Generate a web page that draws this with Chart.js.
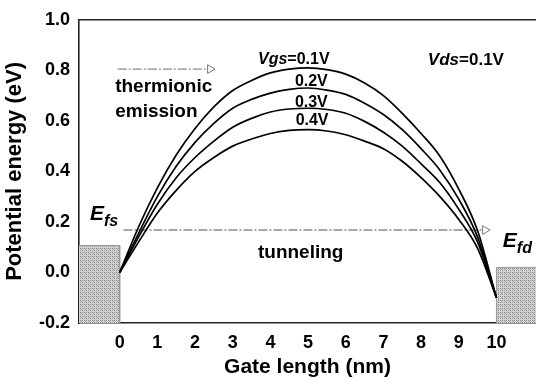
<!DOCTYPE html>
<html>
<head>
<meta charset="utf-8">
<script src="https://cdn.jsdelivr.net/npm/chart.js@4/dist/chart.umd.min.js"></script>
<style>
  html, body { margin: 0; padding: 0; background: #fff; }
  #wrap { width: 536px; height: 384px; }
</style>
</head>
<body>
<div id="wrap"><canvas id="myChart" width="536" height="384"></canvas></div>
<script>
// gate position (nm) and barrier profiles
const gateX  = [0, 0.5, 1, 1.5, 2, 2.5, 3, 3.5, 4, 4.5, 5, 5.5, 6, 6.5, 7, 7.5, 8, 8.5, 9, 9.5, 10];
const vgs01 = [0, 0.18, 0.335, 0.465, 0.57, 0.655, 0.72, 0.76, 0.79, 0.805, 0.81, 0.803, 0.785, 0.75, 0.70, 0.63, 0.55, 0.46, 0.33, 0.165, -0.10];
const vgs02 = [0, 0.155, 0.30, 0.42, 0.515, 0.59, 0.65, 0.685, 0.71, 0.725, 0.73, 0.722, 0.705, 0.67, 0.625, 0.565, 0.49, 0.405, 0.29, 0.14, -0.10];
const vgs03 = [0, 0.14, 0.27, 0.375, 0.455, 0.52, 0.575, 0.61, 0.635, 0.647, 0.65, 0.645, 0.63, 0.598, 0.555, 0.50, 0.43, 0.355, 0.25, 0.12, -0.10];
const vgs04 = [0, 0.12, 0.235, 0.325, 0.40, 0.455, 0.50, 0.528, 0.55, 0.562, 0.565, 0.56, 0.545, 0.52, 0.49, 0.44, 0.375, 0.30, 0.21, 0.095, -0.10];

// source / drain Fermi level blocks
const sourceX = [-1.2, 0, 0];
const sourceY = [0.107, 0.107, -0.2];
const drainX = [10, 10, 11.2];
const drainY = [-0.2, 0.02, 0.02];

// arrows
const thermionicX = [-0.05, 2.4];
const thermionicY = 0.805;
const tunnelX = [0.1, 9.7];
const tunnelY = 0.168;

const xTicks = [0, 1, 2, 3, 4, 5, 6, 7, 8, 9, 10];
const yTicks = [-0.2, 0, 0.2, 0.4, 0.6, 0.8, 1.0];

const FONT = "'Liberation Sans', Arial, sans-serif";

const notes = [
  { x: -0.12, y: 0.733, size: 19, parts: [{ text: 'thermionic' }] },
  { x: -0.12, y: 0.635, size: 19, parts: [{ text: 'emission' }] },
  { x: 3.67, y: 0.841, size: 16, parts: [{ text: 'Vgs', italic: true }, { text: '=0.1V' }] },
  { x: 4.65, y: 0.755, size: 16, parts: [{ text: '0.2V' }] },
  { x: 4.65, y: 0.674, size: 16, parts: [{ text: '0.3V' }] },
  { x: 4.67, y: 0.600, size: 16, parts: [{ text: '0.4V' }] },
  { x: 8.18, y: 0.841, size: 17, parts: [{ text: 'Vds', italic: true }, { text: '=0.1V' }] },
  { x: 3.67, y: 0.076, size: 19, parts: [{ text: 'tunneling' }] },
  { x: -0.79, y: 0.231, size: 21, parts: [{ text: 'E', italic: true }, { text: 'fs', italic: true, size: 16, dy: 7 }] },
  { x: 10.17, y: 0.122, size: 21, parts: [{ text: 'E', italic: true }, { text: 'fd', italic: true, size: 16, dy: 7 }] }
];

function stipple() {
  const c = document.createElement('canvas');
  c.width = 4;
  c.height = 4;
  const g = c.getContext('2d');
  g.fillStyle = '#d2d2d2';
  g.fillRect(0, 0, 4, 4);
  g.fillStyle = '#8c8c8c';
  g.fillRect(0, 0, 1, 1);
  g.fillRect(2, 2, 1, 1);
  g.fillRect(2, 0, 1, 1);
  g.fillStyle = '#a8a8a8';
  g.fillRect(0, 2, 1, 1);
  g.fillRect(1, 1, 1, 1);
  return g.createPattern(c, 'repeat');
}

function curve(values) {
  return {
    data: gateX.map((x, i) => ({ x: x, y: values[i] })),
    borderColor: '#000',
    borderWidth: 1.7,
    pointRadius: 0,
    cubicInterpolationMode: 'monotone',
    fill: false,
    order: 1
  };
}

function block(xs, ys) {
  return {
    data: xs.map((x, i) => ({ x: x, y: ys[i] })),
    borderColor: '#9a9a9a',
    borderWidth: 1,
    backgroundColor: stipple(),
    pointRadius: 0,
    tension: 0,
    fill: 'start',
    order: 5
  };
}

function arrow(xs, yVal) {
  return {
    data: xs.map(x => ({ x: x, y: yVal })),
    borderColor: '#8a8a8a',
    borderWidth: 1.3,
    borderDash: [9, 2, 2, 2],
    pointRadius: [0, 5],
    pointStyle: 'triangle',
    pointRotation: 90,
    pointBackgroundColor: '#fff',
    pointBorderColor: '#7a7a7a',
    pointBorderWidth: 1,
    tension: 0,
    fill: false,
    order: 3
  };
}

const notesPlugin = {
  id: 'notes',
  afterDatasetsDraw(chart) {
    const ctx = chart.ctx;
    const xs = chart.scales.x;
    const ys = chart.scales.y;
    ctx.save();
    ctx.fillStyle = '#000';
    ctx.textBaseline = 'middle';
    ctx.textAlign = 'left';
    notes.forEach(n => {
      let px = xs.getPixelForValue(n.x);
      const py = ys.getPixelForValue(n.y);
      n.parts.forEach(p => {
        ctx.font = (p.italic ? 'italic ' : '') + 'bold ' + (p.size || n.size) + 'px ' + FONT;
        ctx.fillText(p.text, px, py + (p.dy || 0));
        px += ctx.measureText(p.text).width;
      });
    });
    ctx.restore();
  }
};

const ctx = document.getElementById('myChart');
let potentialChart = new Chart(ctx, {
  type: 'line',
  data: {
    datasets: [
      curve(vgs01), curve(vgs02), curve(vgs03), curve(vgs04),
      arrow(thermionicX, thermionicY), arrow(tunnelX, tunnelY),
      block(sourceX, sourceY), block(drainX, drainY)
    ]
  },
  options: {
    responsive: false,
    animation: false,
    devicePixelRatio: 1,
    events: [],
    layout: { padding: 0, autoPadding: false },
    scales: {
      x: {
        type: 'linear',
        min: -1.08,
        max: 11.05,
        afterBuildTicks: s => { s.ticks = xTicks.map(v => ({ value: v })); },
        afterFit: s => { s.height = 61; },
        ticks: {
          color: '#000',
          padding: 9,
          maxRotation: 0,
          font: { family: FONT, size: 18, weight: 'bold' }
        },
        grid: { display: false, drawTicks: false },
        border: { display: true, color: '#222', width: 1.6 },
        title: {
          display: true,
          text: 'Gate length (nm)',
          color: '#000',
          padding: { top: 0, bottom: 4 },
          font: { family: FONT, size: 21, weight: 'bold' }
        }
      },
      xTop: {
        type: 'linear',
        position: 'top',
        min: -1.08,
        max: 11.05,
        afterFit: s => { s.height = 14; },
        ticks: { display: false },
        grid: { display: false, drawTicks: false },
        border: { display: true, color: '#222', width: 1.6 }
      },
      y: {
        min: -0.2,
        max: 1.0,
        afterBuildTicks: s => { s.ticks = yTicks.map(v => ({ value: v })); },
        afterFit: s => { s.width = 79; },
        ticks: {
          color: '#000',
          padding: 9,
          callback: v => v.toFixed(1),
          font: { family: FONT, size: 18, weight: 'bold' }
        },
        grid: { display: false, drawTicks: false },
        border: { display: true, color: '#222', width: 1.6 },
        title: {
          display: true,
          text: 'Potential energy (eV)',
          color: '#000',
          padding: { top: 2, bottom: 0 },
          font: { family: FONT, size: 22, weight: 'bold' }
        }
      }
    },
    plugins: {
      legend: { display: false },
      title: { display: false },
      tooltip: { enabled: false }
    }
  },
  plugins: [notesPlugin]
});
</script>
</body>
</html>
